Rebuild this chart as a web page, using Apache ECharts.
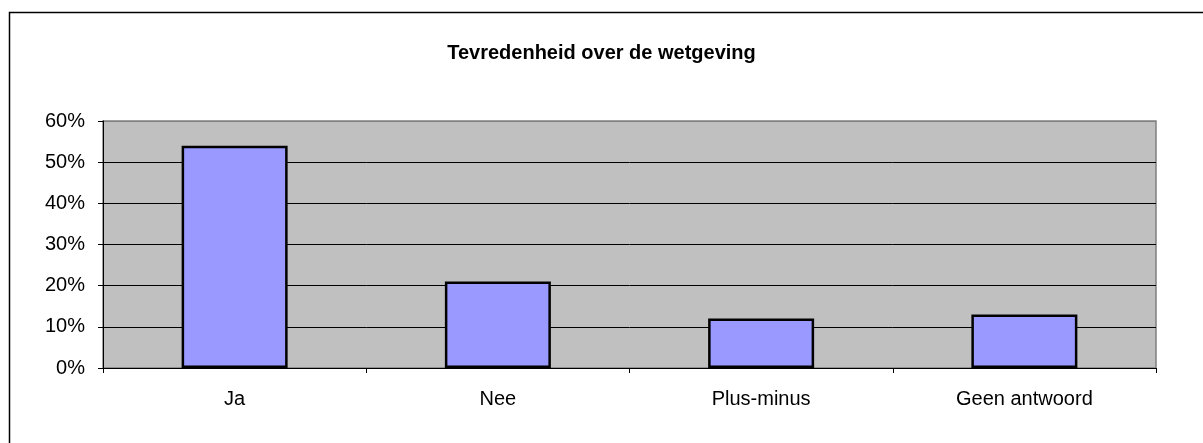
<!DOCTYPE html>
<html><head><meta charset="utf-8">
<script src="https://cdn.jsdelivr.net/npm/echarts@6/dist/echarts.min.js"></script>
<style>html,body{margin:0;padding:0;background:#fff}#c{width:1203px;height:443px}</style>
</head><body><div id="c"></div>
<script>
const title = 'Tevredenheid over de wetgeving';
const categories = ['Ja', 'Nee', 'Plus-minus', 'Geen antwoord'];
const values = [0.54, 0.21, 0.12, 0.13];
const yTicks = [0, 0.1, 0.2, 0.3, 0.4, 0.5, 0.6];

const FONT = 'Liberation Sans, Arial, sans-serif';
const chart = echarts.init(document.getElementById('c'), null, {renderer: 'canvas'});
chart.setOption({
  animation: false,
  backgroundColor: '#fff',
  textStyle: {fontFamily: FONT},
  title: {
    text: title, left: 'center', top: 38,
    textStyle: {fontSize: 20, fontWeight: 'bold', color: '#000', fontFamily: FONT}
  },
  graphic: [{
    type: 'rect', z: 100, silent: true,
    shape: {x: 9.5, y: 12.5, width: 1300, height: 500},
    style: {fill: 'none', stroke: '#000', lineWidth: 1.5}
  }],
  grid: {
    left: 103, right: 47, top: 121, bottom: 75,
    show: true, backgroundColor: '#c0c0c0', borderColor: '#808080', borderWidth: 1.5
  },
  xAxis: {
    type: 'category', data: categories,
    axisLine: {show: true, lineStyle: {color: '#000', width: 1}},
    axisTick: {show: true, alignWithLabel: false, length: 5, lineStyle: {color: '#000'}},
    axisLabel: {color: '#000', fontSize: 20, margin: 21, fontFamily: FONT}
  },
  yAxis: {
    type: 'value', min: yTicks[0], max: yTicks[yTicks.length - 1], interval: 0.1,
    axisLine: {show: true, lineStyle: {color: '#000', width: 1}},
    axisTick: {show: true, length: 5, lineStyle: {color: '#000'}},
    splitLine: {show: true, lineStyle: {color: ['#000', '#000', '#000', '#000', '#000', '#000', '#808080'], width: 1}},
    axisLabel: {
      color: '#000', fontSize: 20, margin: 18, fontFamily: FONT,
      formatter: v => Math.round(v * 100) + '%'
    }
  },
  series: [{
    type: 'bar', data: values, barWidth: 106,
    itemStyle: {color: '#9999ff', borderColor: '#000', borderWidth: 2.5}
  }]
});
</script></body></html>
